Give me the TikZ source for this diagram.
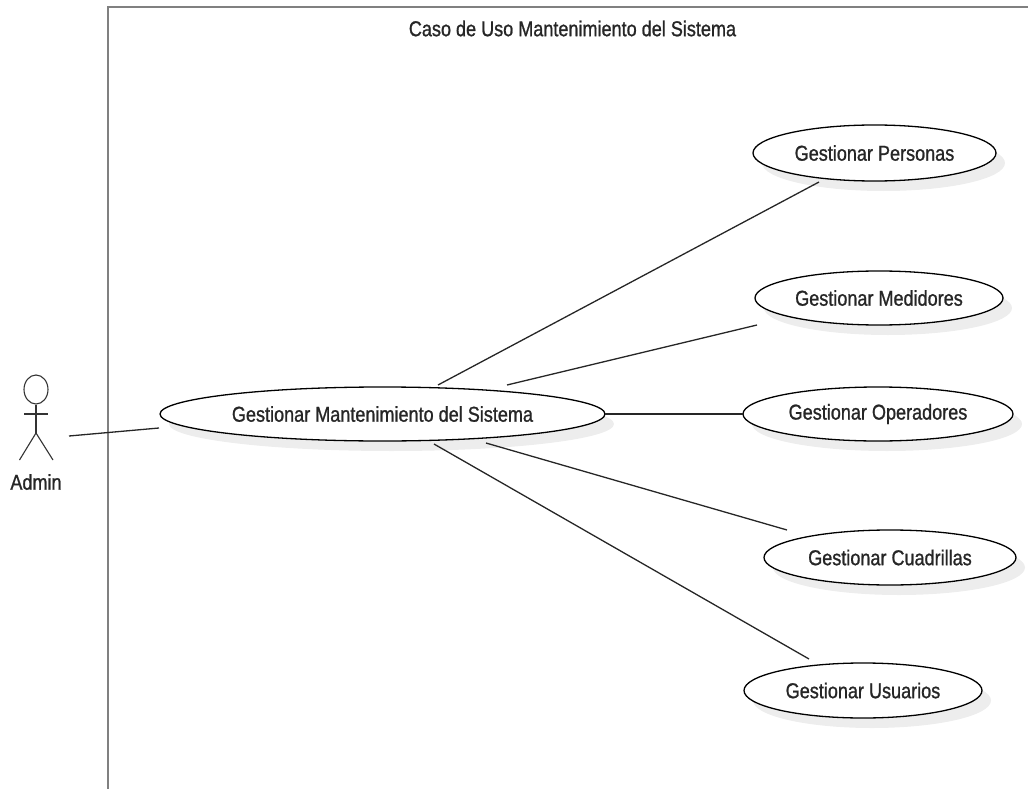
\documentclass[tikz,border=0pt]{standalone}
\usepackage{fontspec}
\setmainfont[FakeStretch=0.84,FakeBold=1.0]{Liberation Sans}
\usetikzlibrary{shapes.geometric,shadows,calc}
\tikzset{
  usecase/.style={ellipse,draw=black,line width=1.3pt,fill=white,inner sep=0pt,
    font=\fontsize{21.5}{24}\selectfont,text=black!85,
    drop shadow={shadow xshift=9pt,shadow yshift=-10pt,fill=black!7,opacity=1}},
  link/.style={draw=black!85,line width=1.3pt},
  stick/.style={draw=black!80,line width=1.1pt},
  frameline/.style={draw=black!50,line width=2.6pt},
  lbl/.style={font=\fontsize{21.5}{24}\selectfont,text=black!85,inner sep=0pt}
}
\begin{document}
\begin{tikzpicture}[x=1pt,y=-1pt]
\useasboundingbox (0,0) rectangle (1028,789);
\coordinate (fa) at (108,789);
\coordinate (fb) at (108,7);
\coordinate (fc) at (1028,7);
\draw[frameline,line join=miter] (fa) -- (fb) -- (fc);
\node[lbl] (title) at (572.5,28.5) {Caso de Uso Mantenimiento del Sistema};
% actor
\node[draw=black!80,line width=1.1pt,ellipse,minimum width=24pt,minimum height=29pt,inner sep=0pt] (head) at (36,389.5) {};
\coordinate (hip) at (36,433);
\coordinate (armL) at (24,414);
\coordinate (armR) at (48,414);
\coordinate (legL) at (19.5,460);
\coordinate (legR) at (53,460);
\draw[stick] (head.south) -- (hip);
\draw[stick] (armL) -- (armR);
\draw[stick] (legL) -- (hip) -- (legR);
\node[lbl] (admin) at (36,482) {Admin};
% use cases
\node[usecase,minimum width=445pt,minimum height=54pt] (main) at (382.5,414) {Gestionar Mantenimiento del Sistema};
\node[usecase,minimum width=243pt,minimum height=56pt] (pers) at (874.5,153) {Gestionar Personas};
\node[usecase,minimum width=248pt,minimum height=54pt] (med) at (879,298) {Gestionar Medidores};
\node[usecase,minimum width=270pt,minimum height=54pt] (oper) at (878,414) {Gestionar Operadores};
\node[usecase,minimum width=252pt,minimum height=55pt] (cuad) at (890,557.5) {Gestionar Cuadrillas};
\node[usecase,minimum width=238pt,minimum height=55pt] (usua) at (863,690.5) {Gestionar Usuarios};
% connectors
\draw[link] ($(head.center)+(33,46.5)$) -- ($(main.center)+(-223.5,14)$);
\draw[link] ($(main.center)+(55.5,-29)$) -- ($(pers.center)+(-55.5,29)$);
\draw[link] ($(main.center)+(124.5,-29)$) -- ($(med.center)+(-122,27)$);
\draw[link] ($(main.center)+(222.5,0)$) -- ($(oper.center)+(-135,0)$);
\draw[link] ($(main.center)+(103.5,29)$) -- ($(cuad.center)+(-103,-27.5)$);
\draw[link] ($(main.center)+(51.5,30)$) -- ($(usua.center)+(-54,-31.5)$);
\end{tikzpicture}
\end{document}
